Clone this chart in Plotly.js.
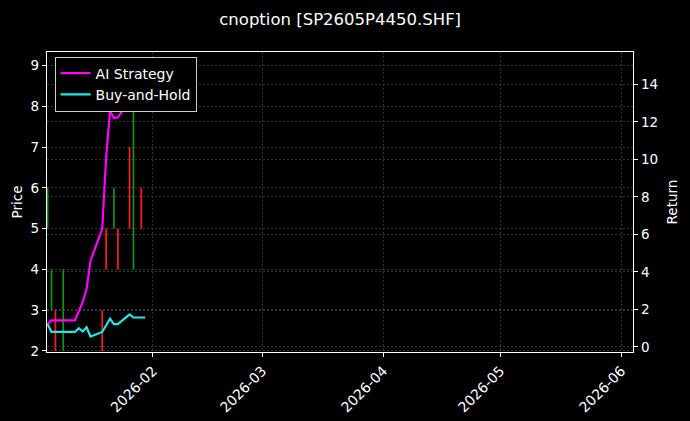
<html>
<head>
<script src="https://cdn.plot.ly/plotly-3.0.1.min.js"></script>
<style>
  body { margin: 0; background: #000; }
</style>
</head>
<body>
<div id="chart" style="width:690px;height:421px;"></div>
<script>
    // candles drawn as low-high sticks on the price axis
    let upDates = ['2026-01-05', '2026-01-06', '2026-01-09', '2026-01-22', '2026-01-27'];
    let upLow   = [5, 3, 2, 5, 4];
    let upHigh  = [6, 4, 4, 6, 8];

    let downDates = ['2026-01-07', '2026-01-19', '2026-01-20', '2026-01-23', '2026-01-26', '2026-01-29'];
    let downLow   = [2, 2, 4, 4, 5, 5];
    let downHigh  = [3, 3, 5, 5, 7, 6];

    // return curves (right axis)
    let retDates = ['2026-01-05', '2026-01-06', '2026-01-07', '2026-01-08', '2026-01-09',
                    '2026-01-12', '2026-01-13', '2026-01-14', '2026-01-15', '2026-01-16',
                    '2026-01-19', '2026-01-20', '2026-01-21', '2026-01-22', '2026-01-23',
                    '2026-01-26', '2026-01-27', '2026-01-28', '2026-01-29', '2026-01-30'];
    let aiStrategy = [1.21, 1.42, 1.42, 1.42, 1.42,
                      1.42, 1.9, 2.4, 3.1, 4.6,
                      6.3, 10.1, 12.6, 12.2, 12.25,
                      13.1, 13.8, 15.0, 15.1, 15.1];
    let buyHold = [1.21, 0.8, 0.8, 0.8, 0.8,
                   0.8, 1.0, 0.82, 1.05, 0.55,
                   0.8, 1.15, 1.5, 1.22, 1.22,
                   1.74, 1.57, 1.57, 1.57, 1.57];

    const stick = (lo, hi) => hi.map((h, i) => h - lo[i]);
    const DAY = 86400000;

    let data = [
      {
        type: 'bar', x: upDates, y: stick(upLow, upHigh), base: upLow,
        width: 0.45 * DAY, marker: { color: '#1a8c1a', line: { width: 0 } },
        yaxis: 'y', showlegend: false, hoverinfo: 'skip'
      },
      {
        type: 'bar', x: downDates, y: stick(downLow, downHigh), base: downLow,
        width: 0.45 * DAY, marker: { color: '#ff1a1a', line: { width: 0 } },
        yaxis: 'y', showlegend: false, hoverinfo: 'skip'
      },
      {
        type: 'scatter', mode: 'lines', x: retDates, y: aiStrategy,
        name: 'AI Strategy', line: { color: '#ff00ff', width: 2.2 }, yaxis: 'y2'
      },
      {
        type: 'scatter', mode: 'lines', x: retDates, y: buyHold,
        name: 'Buy-and-Hold', line: { color: '#22e8e8', width: 2.2 }, yaxis: 'y2'
      }
    ];

    let font = { family: 'DejaVu Sans', color: '#ffffff', size: 13 };
    let grid = { showgrid: true, gridcolor: '#4a4a4a', griddash: '2px,2px', gridwidth: 0.7 };

    let layout = {
      width: 690, height: 421,
      paper_bgcolor: '#000000', plot_bgcolor: '#000000',
      font: font,
      barmode: 'overlay',
      margin: { l: 47, r: 57, t: 52, b: 69, pad: 0 },
      title: { text: 'cnoption [SP2605P4450.SHF]', font: { family: 'DejaVu Sans', size: 16.5, color: '#fff' },
               x: 0.493, xanchor: 'center', y: 0.955, yanchor: 'middle' },
      xaxis: Object.assign({
        type: 'date', range: ['2026-01-04 20:24', '2026-06-03 23:00'],
        tick0: '2026-02-01', dtick: 'M1', tickformat: '%Y-%m', tickangle: -45,
        ticks: 'outside', ticklen: 4, tickcolor: '#fff', tickfont: { size: 14 },
        showline: true, linecolor: '#fff', linewidth: 1.2, mirror: true, zeroline: false
      }, grid),
      yaxis: Object.assign({
        title: { text: 'Price', standoff: 4, font: { size: 13.5 } }, range: [1.975, 9.33], dtick: 1,
        ticks: 'outside', ticklen: 4, tickcolor: '#fff', tickfont: { size: 13.5 },
        showline: true, linecolor: '#fff', linewidth: 1.2, zeroline: false
      }, grid),
      yaxis2: Object.assign({
        title: { text: 'Return', standoff: 10, font: { size: 13.5 } }, range: [-0.27, 15.73], dtick: 2,
        overlaying: 'y', side: 'right',
        ticks: 'outside', ticklen: 4, tickcolor: '#fff', tickfont: { size: 13.5 },
        showline: true, linecolor: '#fff', linewidth: 1.2, zeroline: false
      }, grid),
      legend: {
        x: 0.013, y: 0.985, xanchor: 'left', yanchor: 'top',
        bgcolor: '#000000', bordercolor: '#cccccc', borderwidth: 1,
        font: { size: 14, color: '#fff' }
      }
    };

    Plotly.newPlot('chart', data, layout, { displayModeBar: false, staticPlot: true });
</script>
</body>
</html>
